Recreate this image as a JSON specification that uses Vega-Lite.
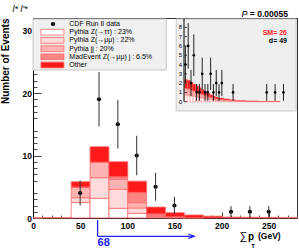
{
"$schema":"https://vega.github.io/schema/vega-lite/v6.json",
"width":264,"height":200,
"autosize":{"type":"none"},
"padding":{"left":33,"top":18,"right":2,"bottom":30},
"background":"white",
"config":{"font":"Liberation Sans","view":{"stroke":"#333","strokeWidth":1},"axis":{"grid":false,"domainColor":"#000","tickColor":"#444","labelColor":"#000","zindex":1}},
"data":{"values":[{}]},
"datasets":{
"hist":[
{"lo":0,"hi":20,"comp":"e-ztt","n":0.06},{"lo":20,"hi":40,"comp":"e-ztt","n":0.06},
{"lo":40,"hi":60,"comp":"e-ztt","n":2.5},{"lo":40,"hi":60,"comp":"d-zmm","n":0.75},{"lo":40,"hi":60,"comp":"c-jj","n":1.65},{"lo":40,"hi":60,"comp":"b-mad","n":0.05},{"lo":40,"hi":60,"comp":"a-other","n":0.85},
{"lo":60,"hi":80,"comp":"e-ztt","n":3.15},{"lo":60,"hi":80,"comp":"d-zmm","n":3.3},{"lo":60,"hi":80,"comp":"c-jj","n":2.45},{"lo":60,"hi":80,"comp":"b-mad","n":0.05},{"lo":60,"hi":80,"comp":"a-other","n":2.45},
{"lo":80,"hi":100,"comp":"e-ztt","n":1.55},{"lo":80,"hi":100,"comp":"d-zmm","n":3.05},{"lo":80,"hi":100,"comp":"c-jj","n":1.6},{"lo":80,"hi":100,"comp":"b-mad","n":0.4},{"lo":80,"hi":100,"comp":"a-other","n":2.4},
{"lo":100,"hi":120,"comp":"e-ztt","n":0.75},{"lo":100,"hi":120,"comp":"d-zmm","n":0.85},{"lo":100,"hi":120,"comp":"c-jj","n":0.85},{"lo":100,"hi":120,"comp":"b-mad","n":1.65},{"lo":100,"hi":120,"comp":"a-other","n":1.8},
{"lo":120,"hi":140,"comp":"e-ztt","n":0.1},{"lo":120,"hi":140,"comp":"d-zmm","n":0.15},{"lo":120,"hi":140,"comp":"c-jj","n":0.2},{"lo":120,"hi":140,"comp":"b-mad","n":0.2},{"lo":120,"hi":140,"comp":"a-other","n":1.1},
{"lo":140,"hi":160,"comp":"e-ztt","n":0.05},{"lo":140,"hi":160,"comp":"d-zmm","n":0.05},{"lo":140,"hi":160,"comp":"c-jj","n":0.05},{"lo":140,"hi":160,"comp":"b-mad","n":0.05},{"lo":140,"hi":160,"comp":"a-other","n":0.65},
{"lo":160,"hi":180,"comp":"b-mad","n":0.03},{"lo":160,"hi":180,"comp":"a-other","n":0.45},
{"lo":180,"hi":200,"comp":"a-other","n":0.3},
{"lo":200,"hi":220,"comp":"a-other","n":0.15},
{"lo":220,"hi":240,"comp":"a-other","n":0.12},
{"lo":240,"hi":260,"comp":"a-other","n":0.1},
{"lo":260,"hi":280,"comp":"d-zmm","n":0.1}
],
"pts":[
{"x":50,"n":4,"lo":2,"hi":6},
{"x":70,"n":19,"lo":14.64,"hi":23.36},
{"x":90,"n":15,"lo":11.13,"hi":18.87},
{"x":110,"n":10,"lo":6.84,"hi":13.16},
{"x":130,"n":5,"lo":2.76,"hi":7.24},
{"x":150,"n":2,"lo":0.59,"hi":3.41},
{"x":210,"n":1,"lo":0.1,"hi":1.9},
{"x":230,"n":1,"lo":0.1,"hi":1.9},
{"x":250,"n":1,"lo":0.1,"hi":1.9}
],
"leg":[
{"label":"CDF Run II data","comp":"data"},
{"label":"Pythia Z(→ττ) : 23%","comp":"e-ztt"},
{"label":"Pythia Z(→μμ) : 22%","comp":"d-zmm"},
{"label":"Pythia jj : 20%","comp":"c-jj"},
{"label":"MadEvent Z(→μμ) j : 6.5%","comp":"b-mad"},
{"label":"Other","comp":"a-other"}
],
"ihist":[
{"lo":70,"hi":75,"comp":"e-ztt","n":0.72},{"lo":70,"hi":75,"comp":"c-jj","n":0.72},{"lo":70,"hi":75,"comp":"a-other","n":0.96},
{"lo":75,"hi":80,"comp":"e-ztt","n":0.69},{"lo":75,"hi":80,"comp":"c-jj","n":0.69},{"lo":75,"hi":80,"comp":"a-other","n":0.92},
{"lo":80,"hi":85,"comp":"e-ztt","n":0.63},{"lo":80,"hi":85,"comp":"c-jj","n":0.63},{"lo":80,"hi":85,"comp":"a-other","n":0.84},
{"lo":85,"hi":90,"comp":"e-ztt","n":0.57},{"lo":85,"hi":90,"comp":"c-jj","n":0.57},{"lo":85,"hi":90,"comp":"a-other","n":0.76},
{"lo":90,"hi":95,"comp":"e-ztt","n":0.51},{"lo":90,"hi":95,"comp":"c-jj","n":0.51},{"lo":90,"hi":95,"comp":"a-other","n":0.68},
{"lo":95,"hi":100,"comp":"e-ztt","n":0.45},{"lo":95,"hi":100,"comp":"c-jj","n":0.45},{"lo":95,"hi":100,"comp":"a-other","n":0.6},
{"lo":100,"hi":105,"comp":"e-ztt","n":0.39},{"lo":100,"hi":105,"comp":"c-jj","n":0.39},{"lo":100,"hi":105,"comp":"a-other","n":0.52},
{"lo":105,"hi":110,"comp":"e-ztt","n":0.33},{"lo":105,"hi":110,"comp":"c-jj","n":0.33},{"lo":105,"hi":110,"comp":"a-other","n":0.44},
{"lo":110,"hi":115,"comp":"e-ztt","n":0.27},{"lo":110,"hi":115,"comp":"c-jj","n":0.27},{"lo":110,"hi":115,"comp":"a-other","n":0.36},
{"lo":115,"hi":120,"comp":"e-ztt","n":0.22},{"lo":115,"hi":120,"comp":"c-jj","n":0.23},{"lo":115,"hi":120,"comp":"a-other","n":0.3},
{"lo":120,"hi":125,"comp":"e-ztt","n":0.18},{"lo":120,"hi":125,"comp":"c-jj","n":0.18},{"lo":120,"hi":125,"comp":"a-other","n":0.24},
{"lo":125,"hi":130,"comp":"e-ztt","n":0.15},{"lo":125,"hi":130,"comp":"c-jj","n":0.15},{"lo":125,"hi":130,"comp":"a-other","n":0.2},
{"lo":130,"hi":140,"comp":"e-ztt","n":0.12},{"lo":130,"hi":140,"comp":"c-jj","n":0.12},{"lo":130,"hi":140,"comp":"a-other","n":0.16},
{"lo":140,"hi":150,"comp":"e-ztt","n":0.09},{"lo":140,"hi":150,"comp":"c-jj","n":0.09},{"lo":140,"hi":150,"comp":"a-other","n":0.12},
{"lo":150,"hi":160,"comp":"e-ztt","n":0.07},{"lo":150,"hi":160,"comp":"c-jj","n":0.07},{"lo":150,"hi":160,"comp":"a-other","n":0.08},
{"lo":160,"hi":180,"comp":"e-ztt","n":0.04},{"lo":160,"hi":180,"comp":"c-jj","n":0.04},{"lo":160,"hi":180,"comp":"a-other","n":0.04},
{"lo":180,"hi":200,"comp":"e-ztt","n":0.02},{"lo":180,"hi":200,"comp":"c-jj","n":0.03},{"lo":180,"hi":200,"comp":"a-other","n":0.03},
{"lo":200,"hi":240,"comp":"e-ztt","n":0.01},{"lo":200,"hi":240,"comp":"c-jj","n":0.01},{"lo":200,"hi":240,"comp":"a-other","n":0.02}
],
"ipts":[
{"x":72.5,"n":4,"lo":2,"hi":6},
{"x":77.5,"n":6,"lo":3.55,"hi":8.45},
{"x":82.5,"n":2,"lo":0.59,"hi":3.41},
{"x":87.5,"n":5,"lo":2.76,"hi":7.24},
{"x":92.5,"n":1,"lo":0.1,"hi":1.9},
{"x":97.5,"n":1,"lo":0.1,"hi":1.9},
{"x":102.5,"n":3,"lo":1.27,"hi":4.73},
{"x":107.5,"n":1,"lo":0.1,"hi":1.9},
{"x":112.5,"n":1,"lo":0.1,"hi":1.9},
{"x":117.5,"n":3,"lo":1.27,"hi":4.73},
{"x":122.5,"n":1,"lo":0.1,"hi":1.9},
{"x":127.5,"n":2,"lo":0.59,"hi":3.41},
{"x":132.5,"n":1,"lo":0.1,"hi":1.9},
{"x":137.5,"n":2,"lo":0.59,"hi":3.41},
{"x":157.5,"n":1,"lo":0.1,"hi":1.9},
{"x":217.5,"n":1,"lo":0.1,"hi":1.9},
{"x":232.5,"n":1,"lo":0.1,"hi":1.9},
{"x":247.5,"n":1,"lo":0.1,"hi":1.9}
],
"iyt":[{"v":0},{"v":1},{"v":2},{"v":3},{"v":4},{"v":5},{"v":6},{"v":7},{"v":8}]
},
"layer":[
{
"layer":[
{"layer":[
{"data":{"name":"hist"},"mark":{"type":"bar","stroke":"#ff6b6b","strokeWidth":0.8,"binSpacing":0},
"encoding":{
"x":{"field":"lo","type":"quantitative","bin":"binned","scale":{"domain":[0,280],"nice":false,"zero":false},"title":null,
"axis":{"orient":"bottom","values":[0,50,100,150,200,250],"tickSize":-6,"labelPadding":9,"labelFontSize":8.5,"labelFontWeight":"bold","labelFlush":false,"labelOverlap":false,"title":null}},
"x2":{"field":"hi"},
"y":{"field":"n","type":"quantitative","stack":"zero","scale":{"domain":[0,32],"nice":false,"zero":false},"title":"Number of Events",
"axis":{"orient":"left","values":[0,5,10,15,20,25,30],"tickSize":-8,"labelPadding":9.5,"labelFontSize":8.5,"labelFontWeight":"bold","labelOverlap":false,"title":"Number of Events","titleFontSize":10,"titleFontWeight":"bold","titleAnchor":"end","titleAlign":"right","titleX":-23,"titleBaseline":"bottom","titleColor":"#000"}},
"color":{"field":"comp","type":"nominal","scale":{"domain":["e-ztt","d-zmm","c-jj","b-mad","a-other"],"range":["#ffffff","#ffdada","#ffb3b3","#ff8585","#ff1a1a"]},"legend":null}
}},
{"mark":{"type":"rect","fill":"#f0f0f0","stroke":"#c8c8c8","strokeWidth":1},
"encoding":{"x":{"datum":0,"type":"quantitative","scale":{"domain":[0,280],"nice":false,"zero":false},"title":null},"x2":{"datum":141.4},
"y":{"datum":31.84,"type":"quantitative","scale":{"domain":[0,32],"nice":false,"zero":false},"title":"Number of Events"},"y2":{"datum":23.68}}},
{"data":{"name":"pts"},"mark":{"type":"point","filled":true,"color":"#000","size":18,"opacity":1},
"encoding":{"x":{"field":"x","type":"quantitative","scale":{"domain":[0,280],"nice":false,"zero":false},"title":null},
"y":{"field":"n","type":"quantitative","scale":{"domain":[0,32],"nice":false,"zero":false},"title":"Number of Events"}}},
{"mark":{"type":"rule","color":"#2020ff","strokeWidth":1.3},
"encoding":{"x":{"datum":68.5,"type":"quantitative","scale":{"domain":[0,280],"nice":false,"zero":false},"title":null},
"y":{"datum":-0.35,"type":"quantitative","scale":{"domain":[0,32],"nice":false,"zero":false},"title":"Number of Events"},"y2":{"datum":-2.93}}},
{"mark":{"type":"rule","color":"#2020ff","strokeWidth":1.3},
"encoding":{"x":{"datum":68.5,"type":"quantitative","scale":{"domain":[0,280],"nice":false,"zero":false},"title":null},"x2":{"datum":171},
"y":{"datum":-2.93,"type":"quantitative","scale":{"domain":[0,32],"nice":false,"zero":false},"title":"Number of Events"}}},
{"mark":{"type":"point","shape":"M-1,-0.75L1,0L-1,0.75","filled":false,"stroke":"#2020ff","strokeWidth":1.2,"size":36,"opacity":1},
"encoding":{"x":{"datum":167.8,"type":"quantitative","scale":{"domain":[0,280],"nice":false,"zero":false},"title":null},
"y":{"datum":-2.93,"type":"quantitative","scale":{"domain":[0,32],"nice":false,"zero":false},"title":"Number of Events"}}},
{"mark":{"type":"text","text":"68","color":"#2020ff","fontSize":11,"fontWeight":"bold","align":"left","baseline":"middle"},
"encoding":{"x":{"datum":68.5,"type":"quantitative","scale":{"domain":[0,280],"nice":false,"zero":false},"title":null},
"y":{"datum":-4.0,"type":"quantitative","scale":{"domain":[0,32],"nice":false,"zero":false},"title":"Number of Events"}}},
{"mark":{"type":"text","text":"l* l'*","color":"#000","fontSize":9,"fontStyle":"italic","align":"center","baseline":"middle"},
"encoding":{"x":{"datum":-13.8,"type":"quantitative","scale":{"domain":[0,280],"nice":false,"zero":false},"title":null},
"y":{"datum":33.5,"type":"quantitative","scale":{"domain":[0,32],"nice":false,"zero":false},"title":"Number of Events"}}},
{"mark":{"type":"text","text":"P","color":"#000","fontSize":9,"fontStyle":"italic","align":"right","baseline":"alphabetic"},
"encoding":{"x":{"datum":227.5,"type":"quantitative","scale":{"domain":[0,280],"nice":false,"zero":false},"title":null},
"y":{"datum":32.1,"type":"quantitative","scale":{"domain":[0,32],"nice":false,"zero":false},"title":"Number of Events"}}},
{"mark":{"type":"text","text":"= 0.00055","color":"#000","fontSize":8.5,"fontWeight":"bold","align":"left","baseline":"alphabetic"},
"encoding":{"x":{"datum":230,"type":"quantitative","scale":{"domain":[0,280],"nice":false,"zero":false},"title":null},
"y":{"datum":32.1,"type":"quantitative","scale":{"domain":[0,32],"nice":false,"zero":false},"title":"Number of Events"}}},
{"mark":{"type":"text","text":"∑","color":"#000","fontSize":11,"align":"center","baseline":"middle"},
"encoding":{"x":{"datum":223.2,"type":"quantitative","scale":{"domain":[0,280],"nice":false,"zero":false},"title":null},
"y":{"datum":-3.0,"type":"quantitative","scale":{"domain":[0,32],"nice":false,"zero":false},"title":"Number of Events"}}},
{"mark":{"type":"text","text":"p","color":"#000","fontSize":10,"fontWeight":"bold","align":"center","baseline":"middle"},
"encoding":{"x":{"datum":231.2,"type":"quantitative","scale":{"domain":[0,280],"nice":false,"zero":false},"title":null},
"y":{"datum":-3.1,"type":"quantitative","scale":{"domain":[0,32],"nice":false,"zero":false},"title":"Number of Events"}}},
{"mark":{"type":"text","text":"T","color":"#000","fontSize":6,"fontWeight":"bold","align":"center","baseline":"middle"},
"encoding":{"x":{"datum":233.5,"type":"quantitative","scale":{"domain":[0,280],"nice":false,"zero":false},"title":null},
"y":{"datum":-4.4,"type":"quantitative","scale":{"domain":[0,32],"nice":false,"zero":false},"title":"Number of Events"}}},
{"mark":{"type":"text","text":"(GeV)","color":"#000","fontSize":8.5,"fontWeight":"bold","align":"left","baseline":"middle"},
"encoding":{"x":{"datum":238.6,"type":"quantitative","scale":{"domain":[0,280],"nice":false,"zero":false},"title":null},
"y":{"datum":-2.95,"type":"quantitative","scale":{"domain":[0,32],"nice":false,"zero":false},"title":"Number of Events"}}}
]},
{"data":{"name":"pts"},"mark":{"type":"rule","color":"#333","strokeWidth":1},
"encoding":{"x":{"field":"x","type":"quantitative","scale":{"domain":[0,280],"nice":false,"zero":false},"title":null,
"axis":{"orient":"bottom","values":[10,20,30,40,60,70,80,90,110,120,130,140,160,170,180,190,210,220,230,240,260,270],"tickSize":-3,"labels":false,"domain":false,"title":null}},
"y":{"field":"lo","type":"quantitative","scale":{"domain":[0,32],"nice":false,"zero":false},"title":null,
"axis":{"orient":"left","values":[1,2,3,4,6,7,8,9,11,12,13,14,16,17,18,19,21,22,23,24,26,27,28,29,31],"tickSize":-4,"labels":false,"domain":false,"title":null}},
"y2":{"field":"hi"}}}
],
"resolve":{"axis":{"x":"independent","y":"independent"}}
},
{
"layer":[
{"data":{"name":"leg"},"mark":{"type":"text","fontSize":7,"align":"left","baseline":"middle","color":"#000"},
"encoding":{"x":{"datum":38.5,"type":"quantitative","scale":{"domain":[0,280],"nice":false,"zero":false},"axis":null},
"y":{"field":"label","type":"nominal","scale":{"type":"point","domain":["CDF Run II data","Pythia Z(→ττ) : 23%","Pythia Z(→μμ) : 22%","Pythia jj : 20%","MadEvent Z(→μμ) j : 6.5%","Other"],"range":[6,47],"padding":0},"axis":null},
"text":{"field":"label"}}},
{"data":{"name":"leg"},"transform":[{"filter":"datum.comp !== 'data'"}],
"mark":{"type":"point","shape":"M-1,-0.25H1V0.25H-1Z","filled":true,"size":529,"stroke":"#ff6b6b","strokeWidth":0.8,"opacity":1},
"encoding":{"x":{"datum":20.6,"type":"quantitative","scale":{"domain":[0,280],"nice":false,"zero":false},"axis":null},
"y":{"field":"label","type":"nominal","scale":{"type":"point","domain":["CDF Run II data","Pythia Z(→ττ) : 23%","Pythia Z(→μμ) : 22%","Pythia jj : 20%","MadEvent Z(→μμ) j : 6.5%","Other"],"range":[6,47],"padding":0},"axis":null},
"fill":{"field":"comp","type":"nominal","scale":{"domain":["e-ztt","d-zmm","c-jj","b-mad","a-other"],"range":["#ffffff","#ffdada","#ffb3b3","#ff8585","#ff1a1a"]},"legend":null}}},
{"data":{"name":"leg"},"transform":[{"filter":"datum.comp === 'data'"}],
"mark":{"type":"point","shape":"circle","filled":true,"color":"#000","size":18,"opacity":1},
"encoding":{"x":{"datum":21.2,"type":"quantitative","scale":{"domain":[0,280],"nice":false,"zero":false},"axis":null},
"y":{"field":"label","type":"nominal","scale":{"type":"point","domain":["CDF Run II data","Pythia Z(→ττ) : 23%","Pythia Z(→μμ) : 22%","Pythia jj : 20%","MadEvent Z(→μμ) j : 6.5%","Other"],"range":[6,47],"padding":0},"axis":null}}}
]
},
{
"layer":[
{"mark":{"type":"rect","fill":"#efefef","stroke":"#c8c8c8","strokeWidth":1},
"encoding":{"x":{"datum":56,"type":"quantitative","scale":{"domain":[70,268],"range":[151,262],"nice":false,"zero":false}},"x2":{"datum":270},
"y":{"datum":-1,"type":"quantitative","scale":{"domain":[0,8.9],"range":[83.7,1],"nice":false,"zero":false},"axis":null},"y2":{"datum":8.9}}},
{"data":{"name":"ihist"},"mark":{"type":"bar","stroke":"#ff6b6b","strokeWidth":0.4,"binSpacing":0},
"encoding":{
"x":{"field":"lo","type":"quantitative","bin":"binned","scale":{"domain":[70,268],"range":[151,262],"nice":false,"zero":false},
"axis":{"orient":"bottom","offset":-116.3,"values":[100,150,200,250],"tickSize":-3,"labelPadding":5,"labelFontSize":6,"labelFlush":false,"title":null}},
"x2":{"field":"hi"},
"y":{"field":"n","type":"quantitative","stack":"zero","scale":{"domain":[0,8.9],"range":[83.7,1],"nice":false,"zero":false},"axis":null},
"color":{"field":"comp","type":"nominal","scale":{"domain":["e-ztt","d-zmm","c-jj","b-mad","a-other"],"range":["#ffffff","#ffdada","#ffb3b3","#ff8585","#ff1a1a"]},"legend":null}
}},
{"mark":{"type":"rule","color":"#000","strokeWidth":1},
"encoding":{"x":{"datum":70,"type":"quantitative","scale":{"domain":[70,268],"range":[151,262],"nice":false,"zero":false}},
"y":{"datum":0,"type":"quantitative","scale":{"domain":[0,8.9],"range":[83.7,1],"nice":false,"zero":false},"axis":null},"y2":{"datum":8.9}}},
{"data":{"name":"iyt"},"mark":{"type":"rule","color":"#444","strokeWidth":1},
"encoding":{"x":{"datum":70,"type":"quantitative","scale":{"domain":[70,268],"range":[151,262],"nice":false,"zero":false}},"x2":{"datum":75.4},
"y":{"field":"v","type":"quantitative","scale":{"domain":[0,8.9],"range":[83.7,1],"nice":false,"zero":false},"axis":null}}},
{"data":{"name":"iyt"},"mark":{"type":"text","fontSize":6,"align":"right","baseline":"middle","dx":-2,"color":"#000"},
"encoding":{"x":{"datum":70,"type":"quantitative","scale":{"domain":[70,268],"range":[151,262],"nice":false,"zero":false}},
"y":{"field":"v","type":"quantitative","scale":{"domain":[0,8.9],"range":[83.7,1],"nice":false,"zero":false},"axis":null},
"text":{"field":"v","type":"quantitative"}}},
{"data":{"name":"ipts"},"mark":{"type":"rule","color":"#222","strokeWidth":1},
"encoding":{"x":{"field":"x","type":"quantitative","scale":{"domain":[70,268],"range":[151,262],"nice":false,"zero":false}},
"y":{"field":"lo","type":"quantitative","scale":{"domain":[0,8.9],"range":[83.7,1],"nice":false,"zero":false},"axis":null},"y2":{"field":"hi"}}},
{"data":{"name":"ipts"},"mark":{"type":"point","filled":true,"color":"#000","size":7,"opacity":1},
"encoding":{"x":{"field":"x","type":"quantitative","scale":{"domain":[70,268],"range":[151,262],"nice":false,"zero":false}},
"y":{"field":"n","type":"quantitative","scale":{"domain":[0,8.9],"range":[83.7,1],"nice":false,"zero":false},"axis":null}}},
{"mark":{"type":"text","text":"SM= 26","color":"#ff1a1a","fontSize":7,"fontWeight":"bold","align":"right","baseline":"middle"},
"encoding":{"x":{"datum":253.7,"type":"quantitative","scale":{"domain":[70,268],"range":[151,262],"nice":false,"zero":false}},
"y":{"datum":7.4,"type":"quantitative","scale":{"domain":[0,8.9],"range":[83.7,1],"nice":false,"zero":false},"axis":null}}},
{"mark":{"type":"text","text":"d= 49","color":"#000","fontSize":7,"fontWeight":"bold","align":"right","baseline":"middle"},
"encoding":{"x":{"datum":253.7,"type":"quantitative","scale":{"domain":[70,268],"range":[151,262],"nice":false,"zero":false}},
"y":{"datum":6.5,"type":"quantitative","scale":{"domain":[0,8.9],"range":[83.7,1],"nice":false,"zero":false},"axis":null}}}
]
}
],
"resolve":{"scale":{"x":"independent","y":"independent"}}
}
